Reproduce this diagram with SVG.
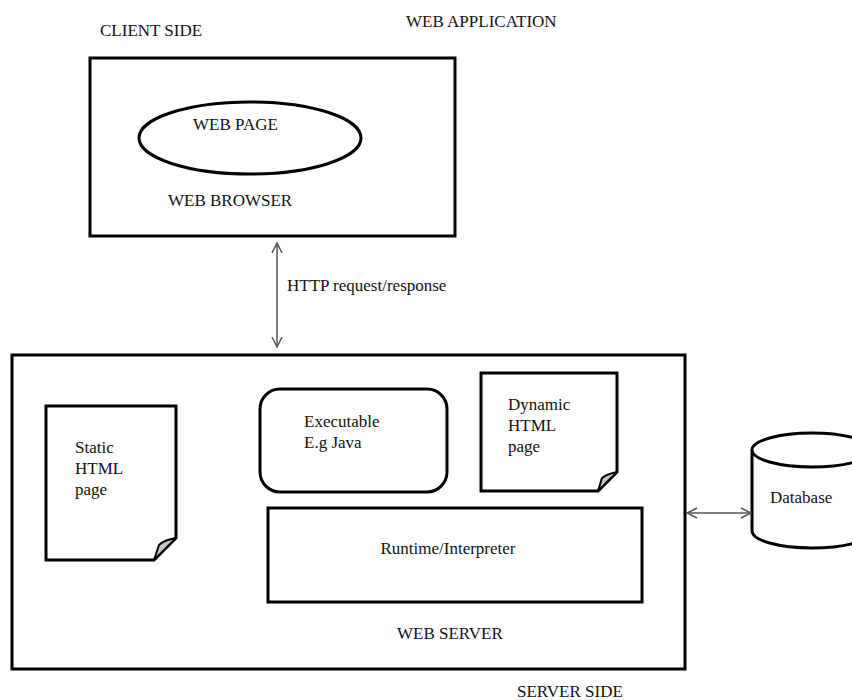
<svg xmlns="http://www.w3.org/2000/svg" width="852" height="700" viewBox="0 0 852 700">
<defs>
<style>
.box{fill:#fff;stroke:#000;stroke-width:3}
.t{font-family:"Liberation Serif","Times New Roman",serif;font-size:17px;fill:#111}
.fold{fill:#c8c8c8;stroke:#000;stroke-width:2;stroke-linejoin:round}
.conn{stroke:#555;stroke-width:1.5;fill:none}
</style>
<marker id="ah" viewBox="0 0 12 12" refX="11" refY="6" markerWidth="12" markerHeight="12" markerUnits="userSpaceOnUse" orient="auto-start-reverse">
<path d="M1,1 L11,6 L1,11" fill="none" stroke="#555" stroke-width="1.5"/>
</marker>
</defs>
<rect width="852" height="700" fill="#fff"/>
<text class="t" x="100" y="36">CLIENT SIDE</text>
<text class="t" x="406" y="27">WEB APPLICATION</text>
<g id="web-browser">
<rect class="box" x="90" y="58" width="365" height="178"/>
<text class="t" x="168" y="206">WEB BROWSER</text>
</g>
<g id="web-page">
<ellipse class="box" cx="250" cy="138" rx="111" ry="36"/>
<text class="t" x="193" y="130">WEB PAGE</text>
</g>
<g id="web-server">
<rect class="box" x="12" y="355" width="673" height="314"/>
<text class="t" x="397" y="639">WEB SERVER</text>
</g>
<text class="t" x="517" y="697">SERVER SIDE</text>
<g id="static-html">
<path class="box" d="M46,406 H176 V538 L154,560 H46 Z"/>
<path class="fold" d="M154,560 L159,545 Q164,540 176,538 Z"/>
<text class="t" x="75" y="453">Static</text>
<text class="t" x="75" y="474">HTML</text>
<text class="t" x="75" y="495">page</text>
</g>
<g id="executable">
<rect class="box" x="260" y="389" width="187" height="103" rx="20" ry="20"/>
<text class="t" x="304" y="427">Executable</text>
<text class="t" x="304" y="448">E.g Java</text>
</g>
<g id="dynamic-html">
<path class="box" d="M481,373 H617 V472 L598,491 H481 Z"/>
<path class="fold" d="M598,491 L602,478 Q607,474 617,472 Z"/>
<text class="t" x="508" y="410">Dynamic</text>
<text class="t" x="508" y="431">HTML</text>
<text class="t" x="508" y="452">page</text>
</g>
<g id="runtime">
<rect class="box" x="268" y="508" width="374" height="94"/>
<text class="t" x="448" y="554" text-anchor="middle">Runtime/Interpreter</text>
</g>
<g id="database">
<path class="box" d="M752,450 V531 A60,17 0 0 0 872,531 V450"/>
<ellipse class="box" cx="812" cy="450" rx="60" ry="17"/>
<text class="t" x="770" y="503">Database</text>
</g>
<g id="connectors">
<line class="conn" x1="277" y1="243" x2="277" y2="347" marker-start="url(#ah)" marker-end="url(#ah)"/>
<text class="t" x="287" y="291">HTTP request/response</text>
<line class="conn" x1="687" y1="513" x2="751" y2="513" marker-start="url(#ah)" marker-end="url(#ah)"/>
</g>
</svg>
